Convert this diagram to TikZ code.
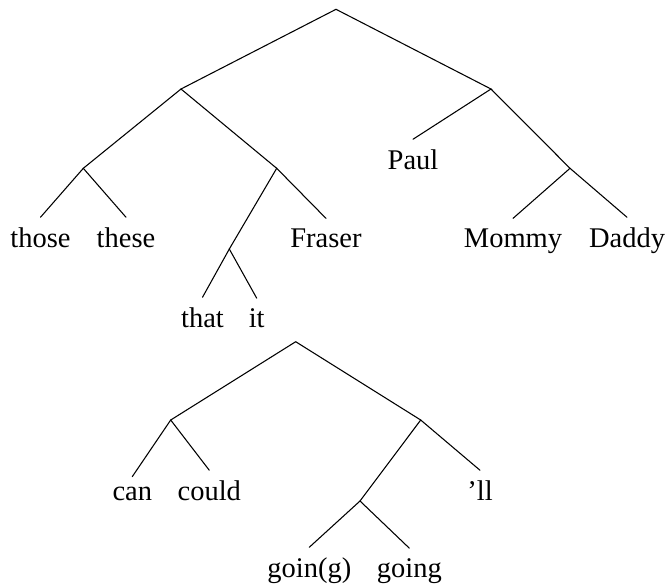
\documentclass[tikz,border=0pt]{standalone}
\usepackage{fontspec}
\setmainfont{Liberation Serif}
\usepackage{tikz}

\begin{document}
\begin{tikzpicture}[
    x=0.421pt,
    y=-0.421pt,
    font=\fontsize{12}{14}\selectfont,
    leaf/.style={anchor=base, inner sep=4pt},
    branch/.style={line width=0.45pt, line cap=round}
]
    \useasboundingbox (0,0) rectangle (667,586);

    % --- FIRST TREE ---
    % Branch points
    \coordinate (root) at (336,9.3);
    \coordinate (nL) at (181,89);
    \coordinate (nR) at (491,89);
    \coordinate (nLL) at (83.3,168.3);
    \coordinate (nLR) at (276.7,168.3);
    \coordinate (nLRL) at (229.3,249);
    \coordinate (nRR) at (570,168.3);

    % Leaves (set on their baselines)
    \node[leaf] (those) at (40.5,247) {those};
    \node[leaf] (these) at (126,247) {these};
    \node[leaf] (fraser) at (326,247) {Fraser};
    \node[leaf] (that) at (202.5,327) {that};
    \node[leaf] (it) at (256.7,327) {it};
    \node[leaf] (paul) at (413,169) {Paul};
    \node[leaf] (mommy) at (513,247) {Mommy};
    \node[leaf] (daddy) at (627,247) {Daddy};

    \foreach \a/\b in {root/nL, root/nR, nL/nLL, nL/nLR, nLR/nLRL, nR/nRR}
        \draw[branch] (\a) -- (\b);
    \foreach \a/\b in {nLL/those, nLL/these, nLR/fraser, nLRL/that, nLRL/it,
                       nR/paul, nRR/mommy, nRR/daddy}
        \draw[branch] (\a) -- (\b.north);

    % --- SECOND TREE ---
    \coordinate (root2) at (295.7,341.7);
    \coordinate (mL) at (170.7,420);
    \coordinate (mR) at (420.7,420);
    \coordinate (mRL) at (360,501);

    \node[leaf] (can) at (132.3,500) {can};
    \node[leaf] (could) at (209.3,500) {could};
    \node[leaf] (will) at (480,500) {'ll};
    \node[leaf] (goinG) at (309.3,577) {goin(g)};
    \node[leaf] (going) at (409.3,577) {going};

    \foreach \a/\b in {root2/mL, root2/mR, mR/mRL}
        \draw[branch] (\a) -- (\b);
    \foreach \a/\b in {mL/can, mL/could, mR/will, mRL/goinG, mRL/going}
        \draw[branch] (\a) -- (\b.north);

\end{tikzpicture}
\end{document}
